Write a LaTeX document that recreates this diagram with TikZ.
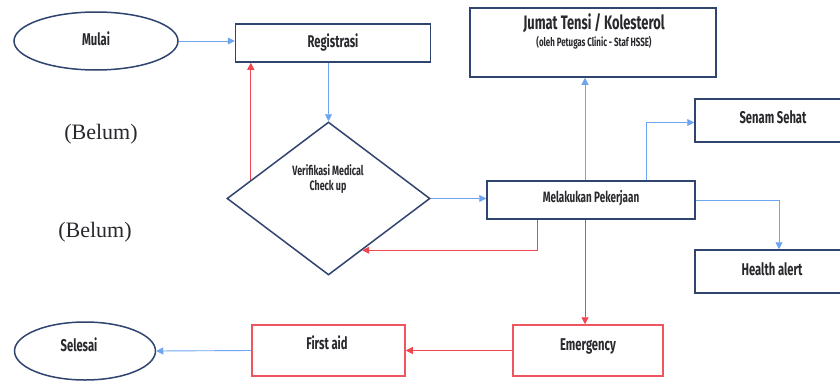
\documentclass[tikz,border=0pt]{standalone}
\usepackage{fontspec}
\setmainfont{Liberation Serif}
\newfontfamily\agency{Fira Sans}[FakeStretch=0.66]
\usetikzlibrary{shapes.geometric,arrows.meta,calc}
\definecolor{navy}{RGB}{48,68,112}
\definecolor{bluel}{RGB}{110,165,240}
\definecolor{redl}{RGB}{240,70,80}
\definecolor{redb}{RGB}{238,85,95}
\definecolor{txt}{RGB}{40,40,45}
\tikzset{
  box/.style={draw=navy, line width=1.5pt, fill=white, rectangle, inner sep=0pt},
  rbox/.style={draw=redb, line width=1.5pt, fill=white, rectangle, inner sep=0pt},
  oval/.style={draw=navy, line width=1.5pt, fill=white, ellipse, inner sep=0pt},
  lbl/.style={font=\agency\bfseries\fontsize{17}{19}\selectfont, text=txt, inner sep=0pt, align=center},
  blu/.style={draw=bluel, line width=0.9pt, -{Triangle[length=7pt,width=7pt]}},
  rd/.style={draw=redl, line width=0.9pt, -{Triangle[length=7pt,width=7pt]}},
  belum/.style={font=\fontsize{22}{24}\selectfont, text=txt, inner sep=0pt}
}
\begin{document}
\begin{tikzpicture}[x=1pt,y=-1pt]
\clip (0,0) rectangle (840,380);
\fill[white] (0,0) rectangle (840,380);
% nodes
\node[oval, minimum width=164pt, minimum height=58pt] (mulai) at (96,41) {};
\node[lbl] (mulaiT) at (96,39) {Mulai};
\node[box, minimum width=195pt, minimum height=38pt] (reg) at (333,43) {};
\node[lbl] (regT) at (333,42) {Registrasi};
\node[diamond, draw=navy, line width=1.5pt, fill=white, inner sep=0pt, minimum width=203pt, minimum height=153pt] (dia) at (328.5,198.5) {};
\node[lbl, font=\agency\bfseries\fontsize{13.5}{15}\selectfont] (diaT) at (328,179) {Verifikasi Medical\\Check up};
\node[box, minimum width=208pt, minimum height=38pt] (mel) at (591,200) {};
\node[lbl, font=\agency\bfseries\fontsize{15}{17}\selectfont] (melT) at (591,198) {Melakukan Pekerjaan};
\node[box, minimum width=246pt, minimum height=69pt] (jum) at (593,42.5) {};
\node[lbl, font=\agency\bfseries\fontsize{19.5}{21}\selectfont] (jumT) at (594,23) {Jumat Tensi / Kolesterol};
\node[lbl, font=\agency\bfseries\fontsize{12}{13}\selectfont] (jumS) at (594,43) {(oleh Petugas Clinic - Staf HSSE)};
\node[box, minimum width=160pt, minimum height=43pt] (sen) at (775,120.5) {};
\node[lbl] (senT) at (773,117) {Senam Sehat};
\node[box, minimum width=160pt, minimum height=43pt] (hea) at (775,271.5) {};
\node[lbl] (heaT) at (772,269) {Health alert};
\node[rbox, minimum width=150pt, minimum height=51pt] (eme) at (588,350.5) {};
\node[lbl] (emeT) at (588,346) {Emergency};
\node[rbox, minimum width=153pt, minimum height=51pt] (fa) at (328.5,350.5) {};
\node[lbl] (faT) at (327,343) {First aid};
\node[oval, minimum width=141pt, minimum height=58pt] (sel) at (85,351) {};
\node[lbl] (selT) at (79,345) {Selesai};
\node[belum] (b1) at (101,134) {(Belum)};
\node[belum] (b2) at (95,232) {(Belum)};
% helper coordinates
\coordinate (dUL) at ($(dia.west)!0.24!(dia.north)$);
\coordinate (dLR) at ($(dia.east)!0.67!(dia.south)$);
\coordinate (m1) at ($(mel.south)+(-54,0)$);
\coordinate (m2) at ($(mel.north)+(-6,0)$);
\coordinate (m3) at ($(mel.north)+(55,0)$);
\coordinate (m4) at ($(mel.south)+(-6,0)$);
\coordinate (hk) at ($(hea.north)+(4,0)$);
% connectors
\draw[blu] (mulai.east) -- (mulai.east -| reg.west);
\draw[blu] (dia.north |- reg.south) -- (dia.north);
\draw[rd] (dUL) -- (dUL |- reg.south);
\draw[blu] (dia.east) -- (dia.east -| mel.west);
\draw[rd] (m1) |- (dLR);
\draw[blu] (m2) -- (m2 |- jum.south);
\draw[blu] (m3) |- ($(sen.west)+(0,2)$);
\draw[blu] (mel.east) -| (hk);
\draw[rd] (m4) -- (m4 |- eme.north);
\draw[rd] (eme.west) -- (fa.east);
\draw[blu] (fa.west) -- (sel.east);
\end{tikzpicture}
\end{document}
